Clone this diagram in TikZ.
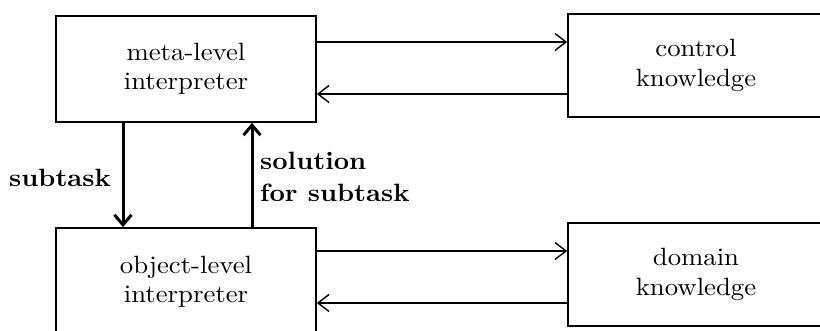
\documentclass[tikz,border=0pt]{standalone}
\usepackage{fontspec}
\setmainfont{lmroman10-regular.otf}[BoldFont=lmroman10-bold.otf,FakeStretch=1.07]
\usetikzlibrary{arrows.meta}
\begin{document}
\begin{tikzpicture}[x=1pt,y=-1pt,
  box/.style={draw,line width=1.7pt,minimum width=260pt,inner sep=0pt,align=center,
    font=\fontsize{25}{29.5}\selectfont},
  thin/.style={line width=1.4pt,-{Straight Barb[length=11pt,width=17pt,line width=1.4pt]}},
  thick/.style={line width=3pt,-{Straight Barb[length=10pt,width=17pt,line width=3pt]}},
  lbl/.style={font=\fontsize{25}{32}\bfseries\selectfont,align=left,inner sep=0pt}]
\useasboundingbox (0,0) rectangle (820,331);
\clip (0,0) rectangle (820,331);
\node[box,minimum height=106pt] (tl) at (186,69) {meta-level\\interpreter};
\node[box,minimum width=256pt,minimum height=103pt] (tr) at (696,65.5) {control\\knowledge};
\node[box,minimum height=108pt] (bl) at (186,282) {object-level\\interpreter};
\node[box,minimum width=256pt,minimum height=103pt] (br) at (696,274.5) {domain\\knowledge};
% top pair
\draw[thin] ([yshift=27pt]tl.east) -- ([yshift=27pt]tl.east -| tr.west);
\draw[thin] ([yshift=-25pt]tl.east -| tr.west) -- ([yshift=-25pt]tl.east);
% bottom pair
\draw[thin] ([yshift=31pt]bl.east) -- ([yshift=31pt]bl.east -| br.west);
\draw[thin] ([yshift=-21pt]bl.east -| br.west) -- ([yshift=-21pt]bl.east);
% vertical
\draw[thick] ([xshift=-63pt]tl.south) -- ([xshift=-63pt]tl.south |- bl.north);
\draw[thick] ([xshift=66pt]tl.south |- bl.north) -- ([xshift=66pt]tl.south);
\node[lbl,anchor=center] (sub) at (60,178) {subtask};
\node[lbl,anchor=west] (sol) at (260,177) {solution\\for subtask};
\end{tikzpicture}
\end{document}
